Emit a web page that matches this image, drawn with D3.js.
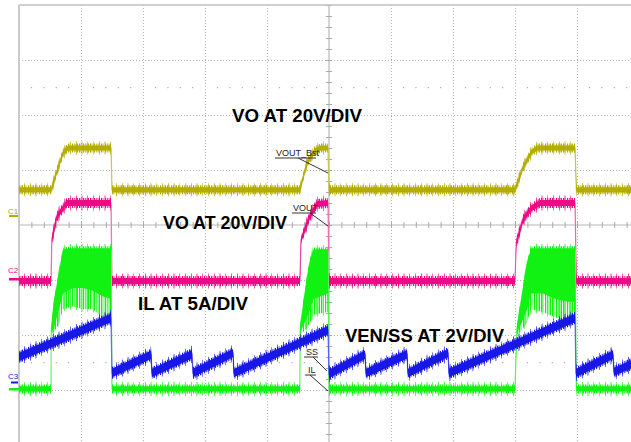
<!DOCTYPE html>
<html><head><meta charset="utf-8">
<script src="https://cdn.jsdelivr.net/npm/d3@7/dist/d3.min.js"></script>
<style>html,body{margin:0;padding:0;background:#fff;overflow:hidden}</style>
</head><body><svg id="c" width="631" height="442"></svg>
<script>
// ---- data (time in divisions 0..10, amplitude in screen divisions -4..4) ----
const timeDivs = [1, 2, 3, 4, 6, 7, 8, 9];
const ampDivs = [-3, -2, -1, 1, 2, 3];
const minorTime = d3.range(0, 10.001, 0.2).map(v => +v.toFixed(1));
const minorAmp = d3.range(-4, 4.001, 0.2).map(v => +v.toFixed(1));
const channelLabels = ["C1", "C2", "C3"];
const scaleLabels = ["VO AT 20V/DIV", "VO AT 20V/DIV", "IL AT 5A/DIV", "VEN/SS AT 2V/DIV"];
const probeLabels = ["VOUT_Bst", "VOUT", "SS", "IL"];

// C1: VOUT_Bst (olive)  [t, v]
const voutBst = [[0,0.64],[0.52,0.64],[0.613,0.98],[0.71,1.31],[0.79,1.4],[1.484,1.4],[1.5,0.64],
  [4.53,0.64],[4.645,1.13],[4.77,1.35],[4.87,1.4],[4.984,1.4],[5.0,0.64],
  [8.0,0.64],[8.13,1.05],[8.27,1.33],[8.36,1.4],[8.968,1.4],[8.99,0.64],[10,0.64]];
// C2: VOUT (magenta)  [t, v]
const vout = [[0,-1.02],[0.516,-1.02],[0.53,-0.27],[0.61,0.15],[0.77,0.4],[1.484,0.4],[1.5,-1.02],
  [4.53,-1.02],[4.55,-0.27],[4.68,0.13],[4.8,0.38],[4.984,0.4],[5.0,-1.02],
  [8.0,-1.02],[8.02,-0.33],[8.13,0.1],[8.26,0.3],[8.4,0.4],[8.968,0.4],[8.99,-1.02],[10,-1.02]];
// IL (green)  [t, top, denseBottom, spikeBottom]
const il = [[0,-2.98,-2.98,-2.98],[0.516,-2.98,-2.98,-2.98],[0.52,-1.91,-1.91,-1.91],
  [0.57,-1.4,-1.8,-1.85],[0.63,-1.0,-1.55,-1.75],[0.71,-0.49,-1.2,-1.45],[0.87,-0.47,-1.1,-1.4],
  [1.03,-0.47,-1.1,-1.45],[1.19,-0.47,-1.15,-1.45],[1.35,-0.47,-1.25,-1.6],[1.484,-0.47,-1.3,-1.7],
  [1.5,-2.98,-2.98,-2.98],[4.53,-2.98,-2.98,-2.98],[4.535,-1.91,-1.91,-1.91],[4.6,-1.35,-1.75,-1.85],
  [4.69,-0.7,-1.5,-1.7],[4.75,-0.49,-1.3,-1.55],[4.984,-0.49,-1.2,-1.5],[5.0,-2.98,-2.98,-2.98],
  [8.0,-2.98,-2.98,-2.98],[8.03,-1.91,-1.91,-1.91],[8.1,-1.4,-1.75,-1.85],[8.19,-0.75,-1.5,-1.7],
  [8.26,-0.47,-1.2,-1.45],[8.45,-0.47,-1.2,-1.5],[8.65,-0.47,-1.3,-1.6],[8.85,-0.47,-1.35,-1.65],
  [8.968,-0.47,-1.35,-1.7],[8.99,-2.98,-2.98,-2.98],[10,-2.98,-2.98,-2.98]];
// VEN/SS (blue)  [t, v]
const venSS = [[0,-2.4],[1.484,-1.69],[1.5,-2.69],[2.13,-2.36],[2.145,-2.69],[2.79,-2.35],[2.806,-2.69],
  [3.45,-2.33],[3.468,-2.69],[4.984,-1.91],[5.0,-2.71],[5.58,-2.36],[5.597,-2.69],[6.258,-2.35],
  [6.274,-2.69],[6.92,-2.33],[6.935,-2.69],[8.968,-1.69],[8.984,-2.69],[9.58,-2.36],[9.597,-2.67],[10,-2.47]];

// ---- drawing ----
const svg = d3.select("#c");
svg.append("rect").attr("width", 631).attr("height", 442).attr("fill", "#fff");
const x = d3.scaleLinear().domain([0, 10]).range([19, 639]);
const y = d3.scaleLinear().domain([-4, 4]).range([445, 5]);
const FONT = "'Liberation Sans', Arial, Helvetica, sans-serif";

// grid
const gridV = svg.append("g").attr("transform", `translate(0,${y(4)})`)
  .call(d3.axisBottom(x).tickValues(timeDivs).tickSize(y(-4) - y(4)).tickFormat(""));
const gridH = svg.append("g").attr("transform", `translate(${x(0)},0)`)
  .call(d3.axisRight(y).tickValues(ampDivs).tickSize(x(10) - x(0)).tickFormat(""));
[gridV, gridH].forEach(g => {
  g.select(".domain").remove();
  g.selectAll("line").attr("stroke", "#b4b4b4").attr("stroke-dasharray", "1,2");
});
// sparse dot rows
[-2.5, 2.5].forEach(v => {
  svg.append("g").selectAll("rect").data(minorTime.filter(t => Math.abs(t - Math.round(t)) > 0.01))
    .join("rect").attr("x", d => x(d) - 0.5).attr("y", y(v) - 0.5).attr("width", 1.2).attr("height", 1.2)
    .attr("fill", "#aaa");
});
// centre axes
svg.append("line").attr("x1", x(0)).attr("x2", x(10)).attr("y1", y(0)).attr("y2", y(0)).attr("stroke", "#b8b8b8").attr("stroke-width", 1.2);
svg.append("line").attr("x1", x(5)).attr("x2", x(5)).attr("y1", y(4)).attr("y2", y(-4)).attr("stroke", "#b8b8b8").attr("stroke-width", 1.2);
const tX = svg.append("g").attr("transform", `translate(0,${y(0) - 3})`)
  .call(d3.axisBottom(x).tickValues(minorTime).tickSize(6).tickFormat(""));
const tY = svg.append("g").attr("transform", `translate(${x(5) - 3},0)`)
  .call(d3.axisRight(y).tickValues(minorAmp).tickSize(6).tickFormat(""));
[tX, tY].forEach(g => { g.select(".domain").remove(); g.selectAll("line").attr("stroke", "#aaa"); });
// frame
svg.append("line").attr("x1", x(0)).attr("x2", x(0)).attr("y1", y(4)).attr("y2", 442).attr("stroke", "#cacaca").attr("stroke-width", 2);
svg.append("line").attr("x1", x(0)).attr("x2", 631).attr("y1", y(4)).attr("y2", y(4)).attr("stroke", "#c0c0c0").attr("stroke-width", 1.5);

// noise patterns
const defs = svg.append("defs");
function makePattern(id, color, w, bars) {
  const p = defs.append("pattern").attr("id", id).attr("patternUnits", "userSpaceOnUse")
    .attr("width", w).attr("height", 20);
  bars.forEach(([bx, bw]) => p.append("rect").attr("x", bx).attr("y", 0).attr("width", bw).attr("height", 20).attr("fill", color));
}
const denseBars = [[0,1],[2,1],[3.6,0.8],[6,1.2],[8.2,0.7],[9.6,0.9]];
const sparseBars = [[1,0.8],[7,0.9],[12.5,1],[18,0.7]];

function drawTrace(id, rows, color, light, h, s1, s2) {
  makePattern("d-" + id, color, 11, denseBars);
  makePattern("s-" + id, color, 23, sparseBars);
  const g = svg.append("g");
  g.append("path").datum(rows).attr("fill", "none").attr("stroke", light).attr("stroke-width", 1.3)
    .attr("d", d3.line().x(d => x(d.t)).y(d => y(d.top)));
  g.append("path").datum(rows).attr("fill", `url(#s-${id})`).attr("opacity", 0.8)
    .attr("d", d3.area().x(d => x(d.t)).y0(d => y(d.spk) + s2).y1(d => y(d.top) - s2));
  g.append("path").datum(rows).attr("fill", `url(#d-${id})`)
    .attr("d", d3.area().x(d => x(d.t)).y0(d => y(d.spk) + s1).y1(d => y(d.top) - s1));
  g.append("path").datum(rows).attr("fill", color)
    .attr("d", d3.area().x(d => x(d.t)).y0(d => y(d.bot) + h).y1(d => y(d.top) - h));
}
const simple = a => a.map(([t, v]) => ({t, top: v, bot: v, spk: v}));
drawTrace("c1", simple(voutBst), "#b4ac00", "#cfcb6a", 2.6, 4.5, 6.5);
drawTrace("c2", simple(vout), "#ee0a86", "#f07cbc", 3, 5, 7.5);
drawTrace("il", il.map(([t, top, bot, spk]) => ({t, top, bot, spk})), "#12f212", "#7cf07c", 2.6, 4.5, 7);
drawTrace("ss", simple(venSS), "#1818e6", "#7a7af0", 4.2, 6, 8.5);

// channel markers
const chColors = ["#b4ac00", "#ee0a86", "#1818e6"];
const chY = [214, 273, 379];
channelLabels.forEach((c, i) => {
  svg.append("text").attr("x", 8).attr("y", chY[i]).attr("font-family", FONT).attr("font-size", 8)
    .attr("fill", chColors[i]).text(c);
});
svg.append("rect").attr("x", 9).attr("y", 215).attr("width", 9).attr("height", 2).attr("fill", "#b4ac00");
svg.append("rect").attr("x", 9).attr("y", 278).attr("width", 10).attr("height", 2.5).attr("fill", "#ee0a86");
svg.append("rect").attr("x", 11).attr("y", 381.5).attr("width", 7).attr("height", 2).attr("fill", "#1818e6");
svg.append("rect").attr("x", 9).attr("y", 388).attr("width", 10).attr("height", 2.5).attr("fill", "#12f212");

// scale labels
const labelPos = [[232, 122, 130], [163, 229, 124], [138, 310, 110], [345, 342, 159]];
scaleLabels.forEach((s, i) => {
  svg.append("text").attr("x", labelPos[i][0]).attr("y", labelPos[i][1])
    .attr("font-family", FONT).attr("font-weight", "bold").attr("font-size", 18)
    .attr("textLength", labelPos[i][2]).attr("lengthAdjust", "spacingAndGlyphs")
    .attr("fill", "#000").text(s);
});

// probe labels with callout lines
const probePos = [
  {tx: 276, ty: 156, u: [275, 316, 158], l: [298, 158, x(5) - 1, 173]},
  {tx: 293, ty: 211, u: [292, 316, 213], l: [310, 213, x(5) - 1, 226]},
  {tx: 306, ty: 355, u: [304, 318, 357], l: [313, 357, x(5) - 2, 371]},
  {tx: 308, ty: 373, u: [305, 316, 375], l: [310, 375, x(5) - 1, 391]}
];
probeLabels.forEach((p, i) => {
  const q = probePos[i];
  svg.append("text").attr("x", q.tx).attr("y", q.ty).attr("font-family", FONT).attr("font-size", 9)
    .attr("fill", "#222").text(p);
  svg.append("line").attr("x1", q.u[0]).attr("x2", q.u[1]).attr("y1", q.u[2]).attr("y2", q.u[2]).attr("stroke", "#333");
  svg.append("line").attr("x1", q.l[0]).attr("y1", q.l[1]).attr("x2", q.l[2]).attr("y2", q.l[3]).attr("stroke", "#333");
});
</script></body></html>
